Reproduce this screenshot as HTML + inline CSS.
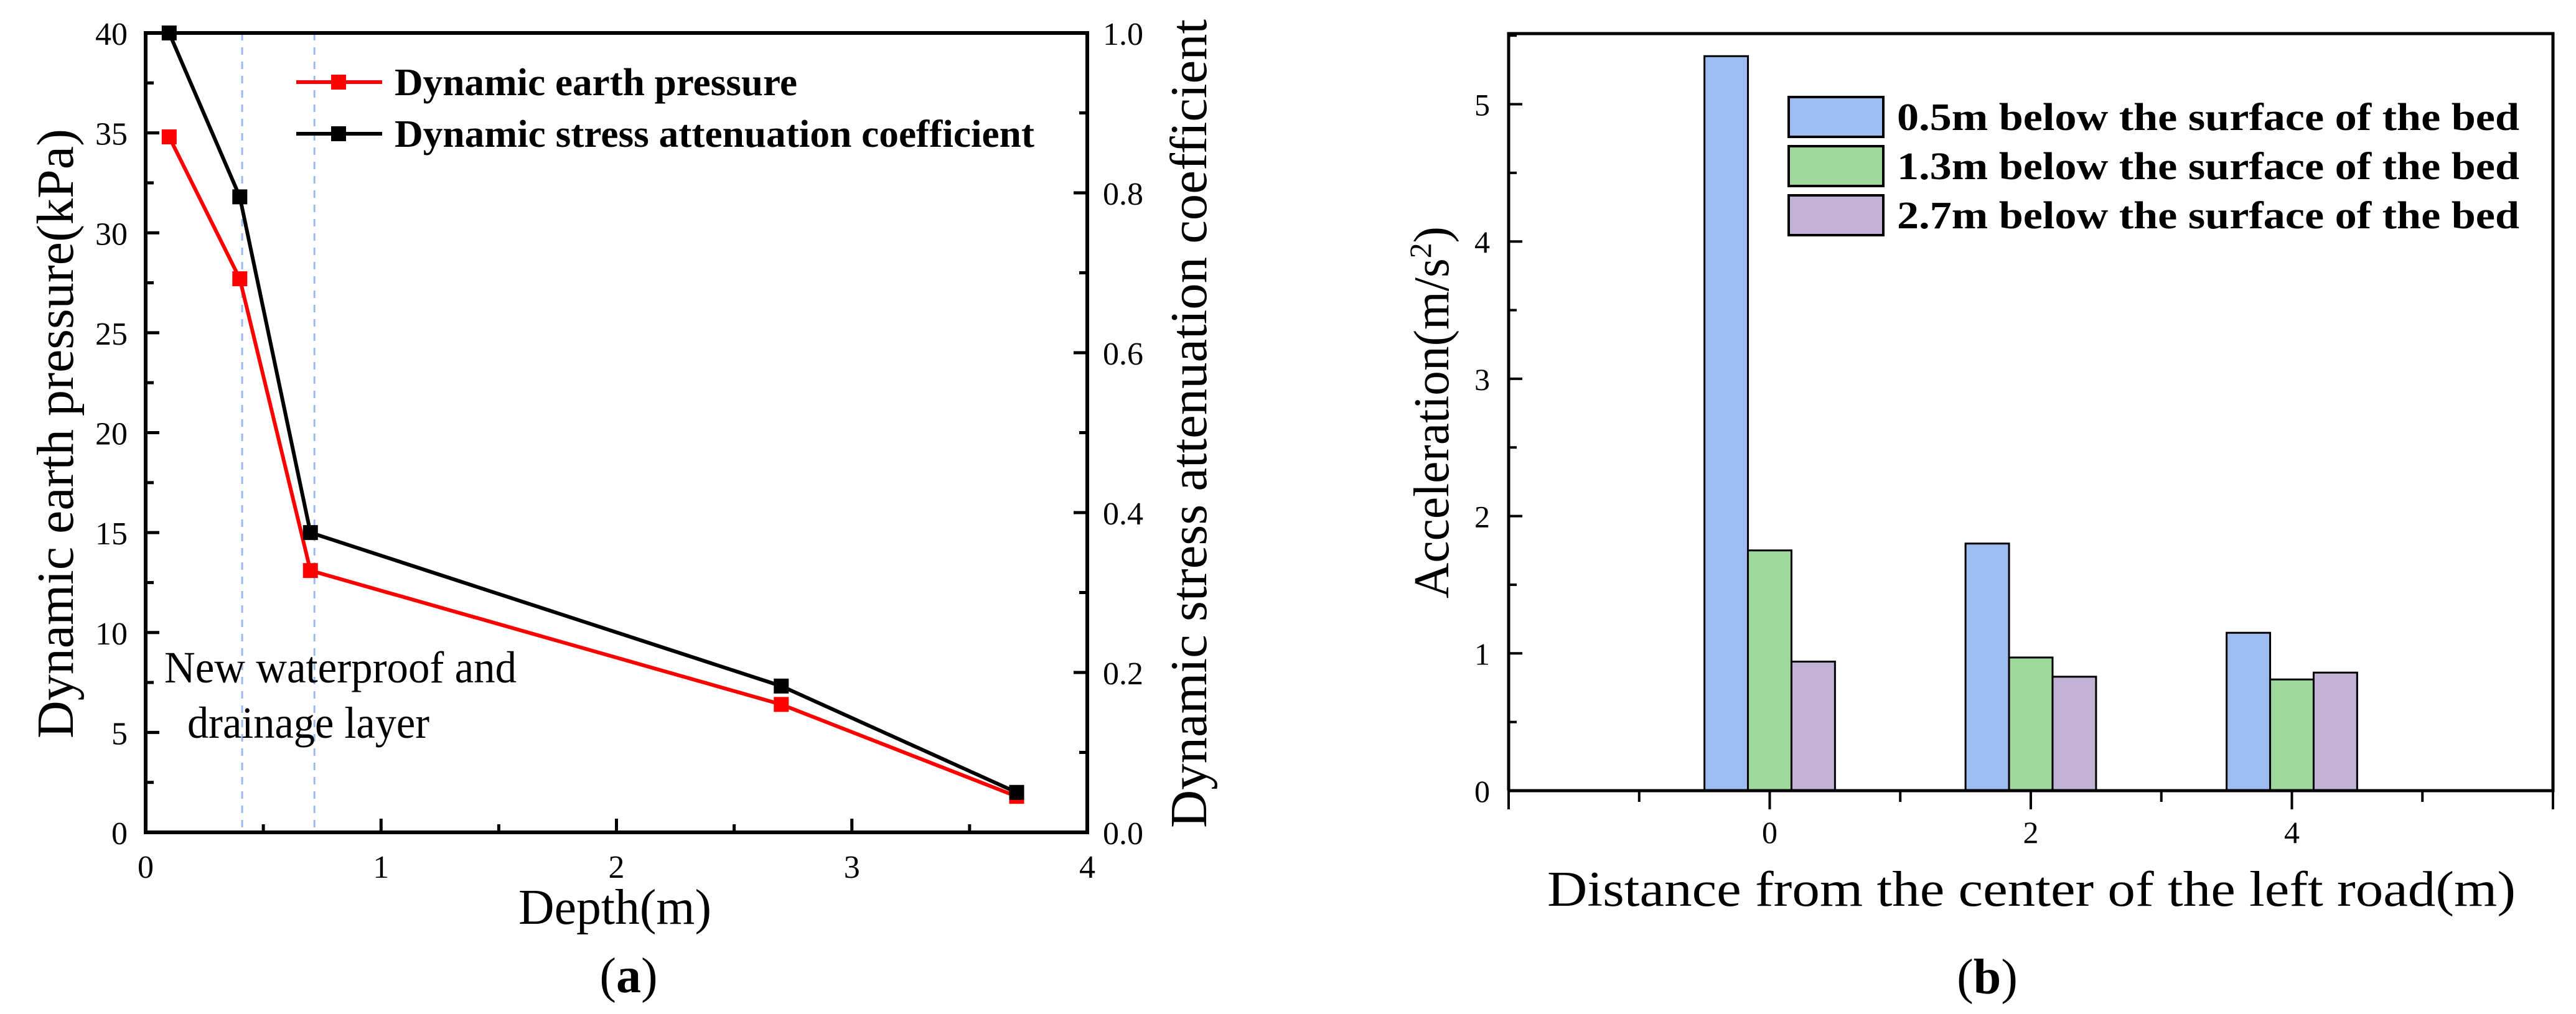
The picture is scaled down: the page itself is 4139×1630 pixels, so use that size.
<!DOCTYPE html>
<html><head><meta charset="utf-8"><style>
html,body{margin:0;padding:0;background:#fff;}
svg{display:block;font-family:"Liberation Serif",serif;}
</style></head><body>
<svg id="fig" width="4139" height="1630" viewBox="0 0 4139 1630" xmlns="http://www.w3.org/2000/svg">
<g id="chartA"></g>
<g id="chartB"></g>
</svg>
<script>
// ---- Chart A data ----
const depths = [0.1, 0.4, 0.7, 2.7, 3.7];
const pressureValues = [34.8, 27.7, 13.1, 6.4, 1.8];
const attenuationValues = [1.0, 0.795, 0.375, 0.183, 0.05];
const layerBounds = [0.41, 0.717];
const xTicksA = ["0","1","2","3","4"];
const yTicksA = ["0","5","10","15","20","25","30","35","40"];
const y2TicksA = ["0.0","0.2","0.4","0.6","0.8","1.0"];
// ---- Chart B data ----
const categoriesB = [0, 2, 4];
const accel05 = [5.35, 1.80, 1.15];
const accel13 = [1.75, 0.97, 0.81];
const accel27 = [0.94, 0.83, 0.86];
const xTicksB = ["0","2","4"];
const yTicksB = ["0","1","2","3","4","5"];
const seriesNamesB = ["0.5m below the surface of the bed","1.3m below the surface of the bed","2.7m below the surface of the bed"];

const NS="http://www.w3.org/2000/svg";
function mk(tag, parent, attrs){const e=document.createElementNS(NS,tag);for(const k in attrs)e.setAttribute(k,attrs[k]);parent.appendChild(e);return e;}

// ===== Chart A =====
const A=document.getElementById('chartA');
const aL=234,aR=1747,aT=53,aB=1338;
const ax=v=>aL+(v-0)/4*(aR-aL);
const ay=v=>aB-(v/40)*(aB-aT);
const ay2=v=>aB-v*(aB-aT);
// dashed layer lines
layerBounds.forEach(b=>{const l=mk('line',A,{x1:ax(b),x2:ax(b),y1:aT,y2:aB,stroke:'#9ab9f0','stroke-width':3,'stroke-dasharray':'12,11'});

});
// ticks
for(let i=0;i<=16;i++){const v=i*2.5;const len=i%2?13:22;const t=mk('line',A,{x1:aL,x2:aL+len,y1:ay(v),y2:ay(v),stroke:'#000','stroke-width':5});
}
for(let i=0;i<=10;i++){const v=i*0.1;const len=i%2?13:22;const t=mk('line',A,{x1:aR,x2:aR-len,y1:ay2(v),y2:ay2(v),stroke:'#000','stroke-width':5});
}
for(let i=0;i<=8;i++){const v=i*0.5;const len=i%2?13:22;const t=mk('line',A,{x1:ax(v),x2:ax(v),y1:aB,y2:aB-len,stroke:'#000','stroke-width':5});
}
yTicksA.forEach(s=>{const t=mk('text',A,{x:205,y:ay(+s)+19,'font-size':52,'text-anchor':'end'});t.textContent=s;
});
y2TicksA.forEach(s=>{const t=mk('text',A,{x:1772,y:ay2(+s)+19,'font-size':52});t.textContent=s;
});
xTicksA.forEach(s=>{const t=mk('text',A,{x:ax(+s),y:1411,'font-size':52,'text-anchor':'middle'});t.textContent=s;
});
// series
function series(vals,yf,color,name){
  const pts=depths.map((d,i)=>ax(d)+','+yf(vals[i])).join(' ');
  const p=mk('polyline',A,{points:pts,fill:'none',stroke:color,'stroke-width':6});
  
  depths.forEach((d,i)=>{const r=mk('rect',A,{x:ax(d)-12,y:yf(vals[i])-12,width:24,height:24,fill:color});
  });
}
series(pressureValues,ay,'#ff0000','pressure');
series(attenuationValues,ay2,'#000000','attenuation');
// frame
const fa=mk('rect',A,{x:aL,y:aT,width:aR-aL,height:aB-aT,fill:'none',stroke:'#000','stroke-width':6});

// legend A
[['#ff0000','Dynamic earth pressure',132,647],['#000000','Dynamic stress attenuation coefficient',215,1028]].forEach(([c,txt,y,w])=>{
  const g=mk('g',A,{});
  mk('line',g,{x1:476,x2:614,y1:y,y2:y,stroke:c,'stroke-width':6});
  mk('rect',g,{x:532,y:y-12,width:24,height:24,fill:c});
  const t=mk('text',g,{x:634,y:y+21,'font-size':62,'font-weight':'bold',textLength:w,lengthAdjust:'spacingAndGlyphs'});t.textContent=txt;
});
// annotation & titles
let t;
t=mk('text',A,{x:264,y:1097,'font-size':72,textLength:566,lengthAdjust:'spacingAndGlyphs'});t.textContent='New waterproof and';

t=mk('text',A,{x:301,y:1186,'font-size':72,textLength:389,lengthAdjust:'spacingAndGlyphs'});t.textContent='drainage layer';

t=mk('text',A,{x:0,y:0,'font-size':84,'text-anchor':'middle',textLength:980,lengthAdjust:'spacingAndGlyphs',transform:'translate(117,697) rotate(-90)'});t.textContent='Dynamic earth pressure(kPa)';

t=mk('text',A,{x:0,y:0,'font-size':84,'text-anchor':'middle',textLength:1300,lengthAdjust:'spacingAndGlyphs',transform:'translate(1938,681) rotate(-90)'});t.textContent='Dynamic stress attenuation coefficient';

t=mk('text',A,{x:988,y:1485,'font-size':80,'text-anchor':'middle',textLength:310,lengthAdjust:'spacingAndGlyphs'});t.textContent='Depth(m)';

t=mk('text',A,{x:1010,y:1595,'font-size':80,'text-anchor':'middle'});
t.innerHTML='(<tspan font-weight="bold">a</tspan>)';


// ===== Chart B =====
const B=document.getElementById('chartB');
const bL=2424,bR=4102,bT=54,bB=1271;
const bx=v=>bL+(v+2)/8*(bR-bL);
const by=v=>bB-v*220.7;
const bw=(bR-bL)/8/3;
const colors=['#9dbcf2','#9fd89c','#c1b2d6'];
[accel05,accel13,accel27].forEach((arr,s)=>{
  categoriesB.forEach((c,i)=>{
    const x=bx(c)-1.5*bw+s*bw;
    const r=mk('rect',B,{x:x,y:by(arr[i]),width:bw,height:bB-by(arr[i]),fill:colors[s],stroke:'#000','stroke-width':3});
    
    
  });
});
for(let i=0;i<=11;i++){const v=i*0.5;const len=i%2?13:22;const tk=mk('line',B,{x1:bL,x2:bL+len,y1:by(v),y2:by(v),stroke:'#000','stroke-width':4});
}
for(let i=0;i<=8;i++){const v=-2+i;const len=i%2?18:30;const tk=mk('line',B,{x1:bx(v),x2:bx(v),y1:bB,y2:bB+len,stroke:'#000','stroke-width':4});
}
yTicksB.forEach(s=>{const tt=mk('text',B,{x:2394,y:by(+s)+18,'font-size':50,'text-anchor':'end'});tt.textContent=s;
});
xTicksB.forEach(s=>{const tt=mk('text',B,{x:bx(+s),y:1355,'font-size':50,'text-anchor':'middle'});tt.textContent=s;
});
const fb=mk('polyline',B,{points:`${bL},${bB} ${bL},${bT} ${bR},${bT} ${bR},${bB} ${bL},${bB}`,fill:'none',stroke:'#000','stroke-width':5});

// legend B
const legY=[154,233,312];
seriesNamesB.forEach((n,s)=>{
  const g=mk('g',B,{});
  mk('rect',g,{x:2874,y:legY[s]+2,width:152,height:64,fill:colors[s],stroke:'#000','stroke-width':4});
  const tt=mk('text',g,{x:3048,y:legY[s]+55,'font-size':62,'font-weight':'bold',textLength:1000,lengthAdjust:'spacingAndGlyphs'});tt.textContent=n;
});
t=mk('text',B,{x:0,y:0,'font-size':80,'text-anchor':'middle',textLength:598,lengthAdjust:'spacingAndGlyphs',transform:'translate(2327,663) rotate(-90)'});
t.innerHTML='Acceleration(m/s<tspan font-size="50" dy="-28">2</tspan><tspan dy="28">)</tspan>';

t=mk('text',B,{x:3264,y:1456,'font-size':80,'text-anchor':'middle',textLength:1556,lengthAdjust:'spacingAndGlyphs'});t.textContent='Distance from the center of the left road(m)';

t=mk('text',B,{x:3193,y:1597,'font-size':80,'text-anchor':'middle'});
t.innerHTML='(<tspan font-weight="bold">b</tspan>)';

</script>
</body></html>
